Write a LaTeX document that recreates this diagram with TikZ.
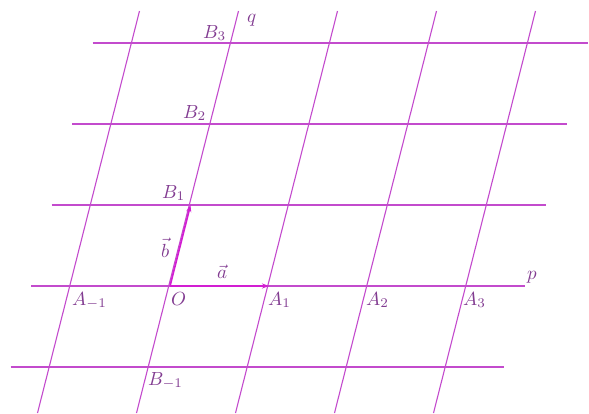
\documentclass[tikz,border=0pt]{standalone}
\usepackage{graphicx}
\usetikzlibrary{arrows.meta}
\definecolor{gridcol}{RGB}{195,75,205}
\definecolor{veccol}{RGB}{210,30,210}
\definecolor{txtcol}{RGB}{130,60,145}
\newcommand{\lab}[1]{\scalebox{1.9}{$#1$}}
\begin{document}
\begin{tikzpicture}[x=1pt,y=-1pt,
  gridline/.style={draw=gridcol,line width=1.1pt},
  vecline/.style={draw=veccol,line width=1.7pt,-{Stealth[length=7pt,width=5pt]}},
  lbl/.style={text=txtcol,inner sep=0pt,anchor=base west}]
\useasboundingbox (0,0) rectangle (589,413);
% slanted lines (parallel to q)
\foreach \k in {0,...,4}{
  \coordinate (st\k) at ({139.5+99*\k},11);
  \coordinate (sb\k) at ({37.5+99*\k},413);
  \draw[gridline] (sb\k) -- (st\k);
}
% horizontal lines (parallel to p)
\foreach \k in {0,...,4}{
  \coordinate (hl\k) at ({10.5+20.5*\k},{367-81*\k});
  \coordinate (hr\k) at ({504+21*\k},{367-81*\k});
  \draw[gridline] (hl\k) -- (hr\k);
}
% points
\coordinate (O) at (170,286);
\coordinate (A1) at (269,286);
\coordinate (B1) at (190.5,205);
% vectors
\draw[vecline] (O) -- (A1);
\draw[vecline] (O) -- (B1);
% labels
\node[lbl] (lAm) at (72,305) {\lab{A_{-1}}};
\node[lbl] (lO) at (171,305) {\lab{O}};
\node[lbl] (lA1) at (268,305) {\lab{A_1}};
\node[lbl] (lA2) at (366,305) {\lab{A_2}};
\node[lbl] (lA3) at (463,305) {\lab{A_3}};
\node[lbl] (lBm) at (148,385) {\lab{B_{-1}}};
\node[lbl] (lB1) at (162,198) {\lab{B_1}};
\node[lbl] (lB2) at (183,118) {\lab{B_2}};
\node[lbl] (lB3) at (203,38) {\lab{B_3}};
\node[lbl] (lq) at (247,22) {\lab{q}};
\node[lbl] (lp) at (527,279) {\lab{p}};
\node[lbl] (la) at (217,278) {\lab{\vec a}};
\node[lbl] (lb) at (161,257) {\lab{\vec b}};
\end{tikzpicture}
\end{document}
